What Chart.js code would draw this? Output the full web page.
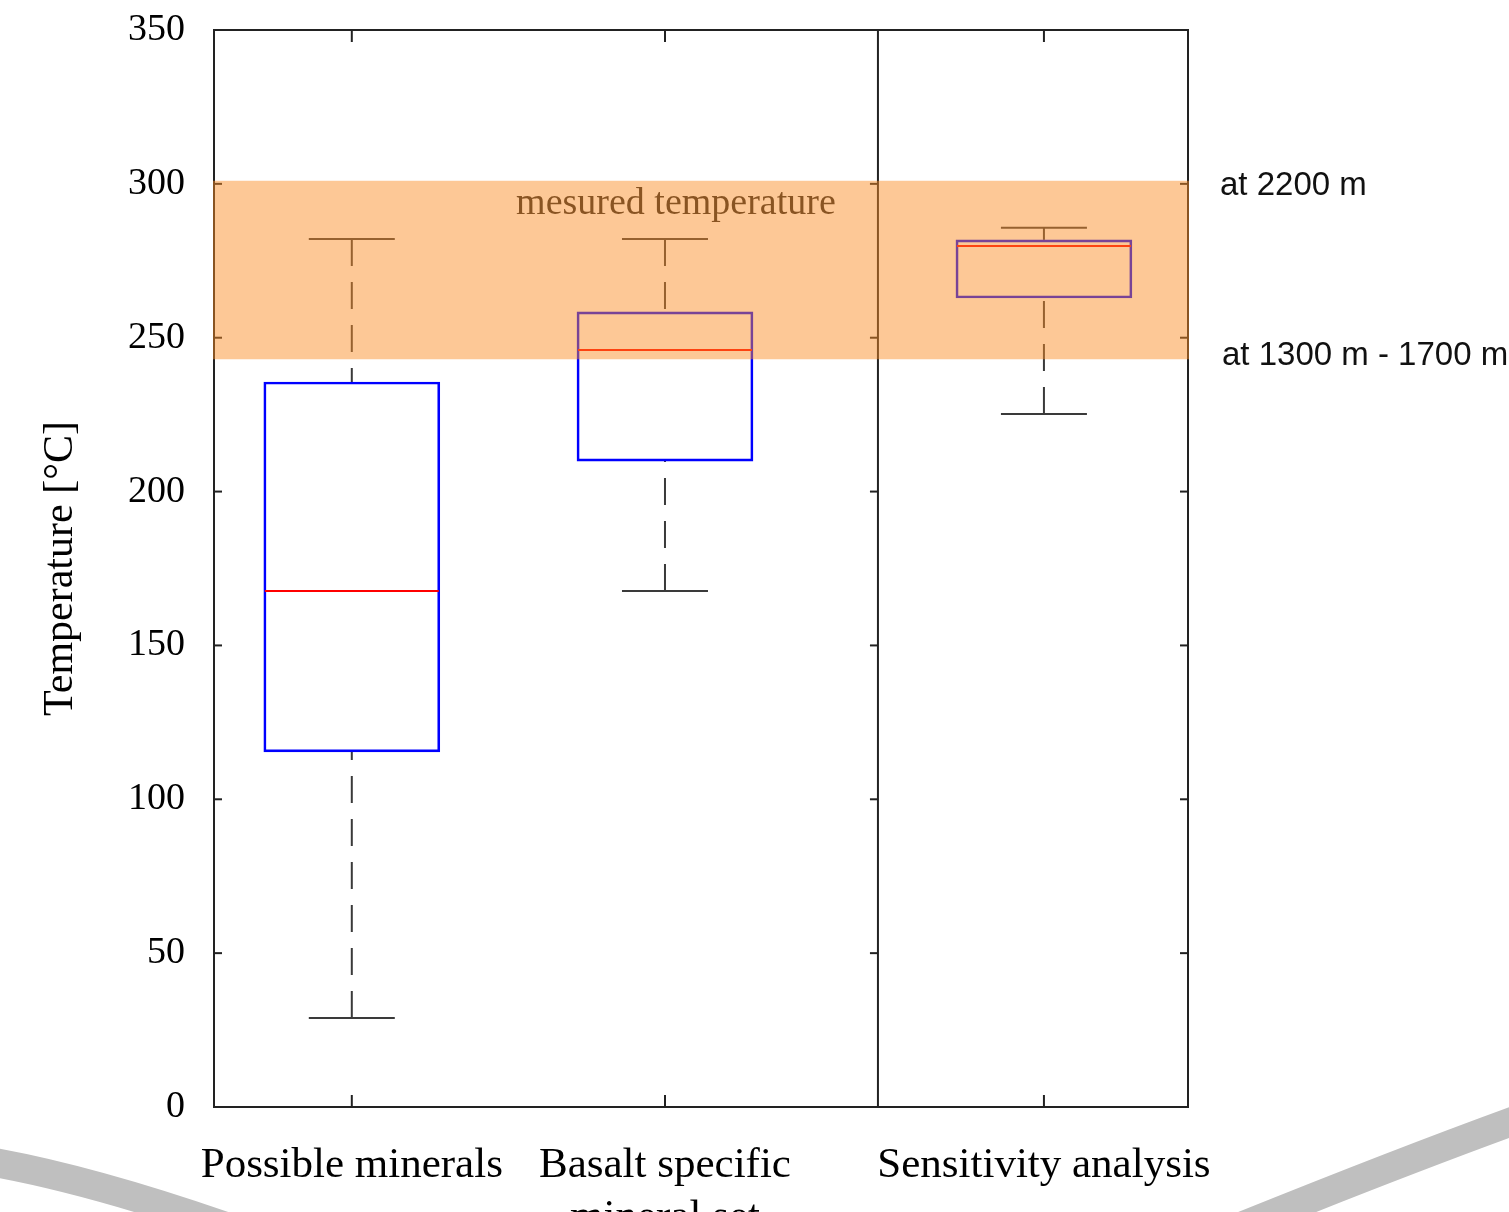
<!DOCTYPE html>
<html>
<head>
<meta charset="utf-8">
<script src="https://cdn.jsdelivr.net/npm/chart.js@4.4.0/dist/chart.umd.min.js"></script>
<style>
  html, body { margin: 0; padding: 0; background: #fff; }
  canvas { display: block; }
</style>
</head>
<body>
<canvas id="c" width="1509" height="1212"></canvas>
<script>
// Temperature estimates (°C) from three approaches
const categories = [['Possible minerals'], ['Basalt specific', 'mineral set'], ['Sensitivity analysis']];
const positions = [1, 2, 3.21];
const whiskerLow = [28.9, 167.7, 225.2];
const quartile1 = [115.4, 209.9, 262.9];
const medians = [167.7, 246.0, 279.8];
const quartile3 = [235.6, 258.4, 281.8];
const whiskerHigh = [282.1, 282.1, 285.7];

// Measured temperature range in the well
const measuredBand = [243, 301];
const bandLabels = ['at 1300 m - 1700 m', 'at 2200 m'];
const bandTitle = 'mesured temperature';
const bandTitlePos = { x: 2.035, y: 293.5 };

const yTicks = [0, 50, 100, 150, 200, 250, 300, 350];
const xRange = [0.56, 3.67];
const panelSplit = 2.68;

const serif = '"Liberation Serif", "Times New Roman", serif';
const sans = '"Liberation Sans", Arial, sans-serif';

const BOX_W = 176;
const CAP_W = 86;

function seg(ctx, x1, y1, x2, y2) {
  ctx.beginPath();
  ctx.moveTo(x1, y1);
  ctx.lineTo(x2, y2);
  ctx.stroke();
}

const boxPlot = {
  id: 'boxPlot',
  beforeDraw(chart) {
    const { ctx, width, height } = chart;
    ctx.save();
    ctx.fillStyle = '#fff';
    ctx.fillRect(0, 0, width, height);
    // grey swoosh of the slide background
    ctx.strokeStyle = '#bfbfbf';
    ctx.lineWidth = 29;
    ctx.beginPath();
    ctx.moveTo(-20, 1160);
    ctx.quadraticCurveTo(90, 1178, 250, 1235);
    ctx.stroke();
    ctx.beginPath();
    ctx.moveTo(1530, 1115);
    ctx.quadraticCurveTo(1400, 1162, 1220, 1235);
    ctx.stroke();
    ctx.restore();
  },
  beforeDatasetsDraw(chart) {
    const { ctx, chartArea: a, scales: { x, y } } = chart;
    ctx.save();
    ctx.strokeStyle = '#222';
    ctx.lineWidth = 2;
    ctx.strokeRect(a.left, a.top, a.right - a.left, a.bottom - a.top);
    const xs = x.getPixelForValue(panelSplit);
    seg(ctx, xs, a.top, xs, a.bottom);
    // inward tick marks
    yTicks.forEach(v => {
      if (v === yTicks[0] || v === yTicks[yTicks.length - 1]) return;
      const py = y.getPixelForValue(v);
      seg(ctx, a.left, py, a.left + 8, py);
      seg(ctx, xs - 8, py, xs, py);
      seg(ctx, a.right - 8, py, a.right, py);
    });
    positions.forEach(p => {
      const px = x.getPixelForValue(p);
      seg(ctx, px, a.top, px, a.top + 12);
      seg(ctx, px, a.bottom - 12, px, a.bottom);
    });
    // whiskers and caps
    ctx.strokeStyle = '#3a3a3a';
    positions.forEach((p, i) => {
      const px = x.getPixelForValue(p);
      const hi = y.getPixelForValue(whiskerHigh[i]);
      const lo = y.getPixelForValue(whiskerLow[i]);
      const q1 = y.getPixelForValue(quartile1[i]);
      const q3 = y.getPixelForValue(quartile3[i]);
      ctx.setLineDash([27, 16]);
      seg(ctx, px, hi, px, q3);
      seg(ctx, px, lo, px, q1);
      ctx.setLineDash([]);
      seg(ctx, px - CAP_W / 2, hi, px + CAP_W / 2, hi);
      seg(ctx, px - CAP_W / 2, lo, px + CAP_W / 2, lo);
    });
    ctx.restore();
  },
  afterDatasetsDraw(chart) {
    const { ctx, chartArea: a, scales: { x, y } } = chart;
    ctx.save();
    // medians
    ctx.strokeStyle = '#ff0000';
    ctx.lineWidth = 2;
    positions.forEach((p, i) => {
      const px = x.getPixelForValue(p);
      const pm = y.getPixelForValue(medians[i]);
      seg(ctx, px - BOX_W / 2 + 1, pm, px + BOX_W / 2 - 1, pm);
    });
    // band caption, tinted by the band laid over it
    ctx.fillStyle = '#222';
    ctx.font = '38px ' + serif;
    ctx.textAlign = 'center';
    ctx.textBaseline = 'middle';
    ctx.fillText(bandTitle, x.getPixelForValue(bandTitlePos.x), y.getPixelForValue(bandTitlePos.y));
    // measured temperature band
    const yTop = y.getPixelForValue(measuredBand[1]);
    const yBot = y.getPixelForValue(measuredBand[0]);
    ctx.fillStyle = 'rgba(250,140,35,0.48)';
    ctx.fillRect(a.left - 1, yTop, a.right - a.left + 2, yBot - yTop);
    // depth labels for the band edges
    ctx.fillStyle = '#111';
    ctx.font = '33px ' + sans;
    ctx.textAlign = 'left';
    ctx.fillText(bandLabels[1], a.right + 32, yTop + 5);
    ctx.fillText(bandLabels[0], a.right + 34, yBot - 3);
    ctx.restore();
  }
};

new Chart(document.getElementById('c'), {
  type: 'bar',
  data: {
    datasets: [{
      data: positions.map((p, i) => ({ x: p, y: [quartile1[i], quartile3[i]] })),
      backgroundColor: 'rgba(0,0,0,0)',
      borderColor: '#0000ff',
      borderWidth: 2,
      borderSkipped: false,
      barThickness: BOX_W
    }]
  },
  options: {
    responsive: false,
    animation: false,
    layout: { padding: { top: 30, right: 321, bottom: 0, left: 0 } },
    plugins: { legend: { display: false }, tooltip: { enabled: false } },
    scales: {
      x: {
        type: 'linear',
        min: xRange[0],
        max: xRange[1],
        offset: false,
        afterBuildTicks: s => { s.ticks = positions.map(v => ({ value: v })); },
        afterFit: s => { s.height = 105; s.paddingLeft = 0; s.paddingRight = 0; },
        grid: { display: false, drawTicks: false },
        border: { display: false },
        ticks: {
          autoSkip: false,
          maxRotation: 0,
          padding: 33,
          color: '#000',
          font: { family: serif, size: 43 },
          callback: (v, i) => categories[i]
        }
      },
      y: {
        type: 'linear',
        min: 0,
        max: 350,
        afterBuildTicks: s => { s.ticks = yTicks.map(v => ({ value: v })); },
        afterFit: s => { s.width = 214; s.paddingTop = 0; s.paddingBottom = 0; },
        grid: { display: false, drawTicks: false },
        border: { display: false },
        ticks: {
          padding: 29,
          color: '#000',
          font: { family: serif, size: 38 }
        },
        title: {
          display: true,
          text: 'Temperature [°C]',
          color: '#000',
          font: { family: serif, size: 42 },
          padding: { top: 36, bottom: 0 }
        }
      }
    }
  },
  plugins: [boxPlot]
});
</script>
</body>
</html>
